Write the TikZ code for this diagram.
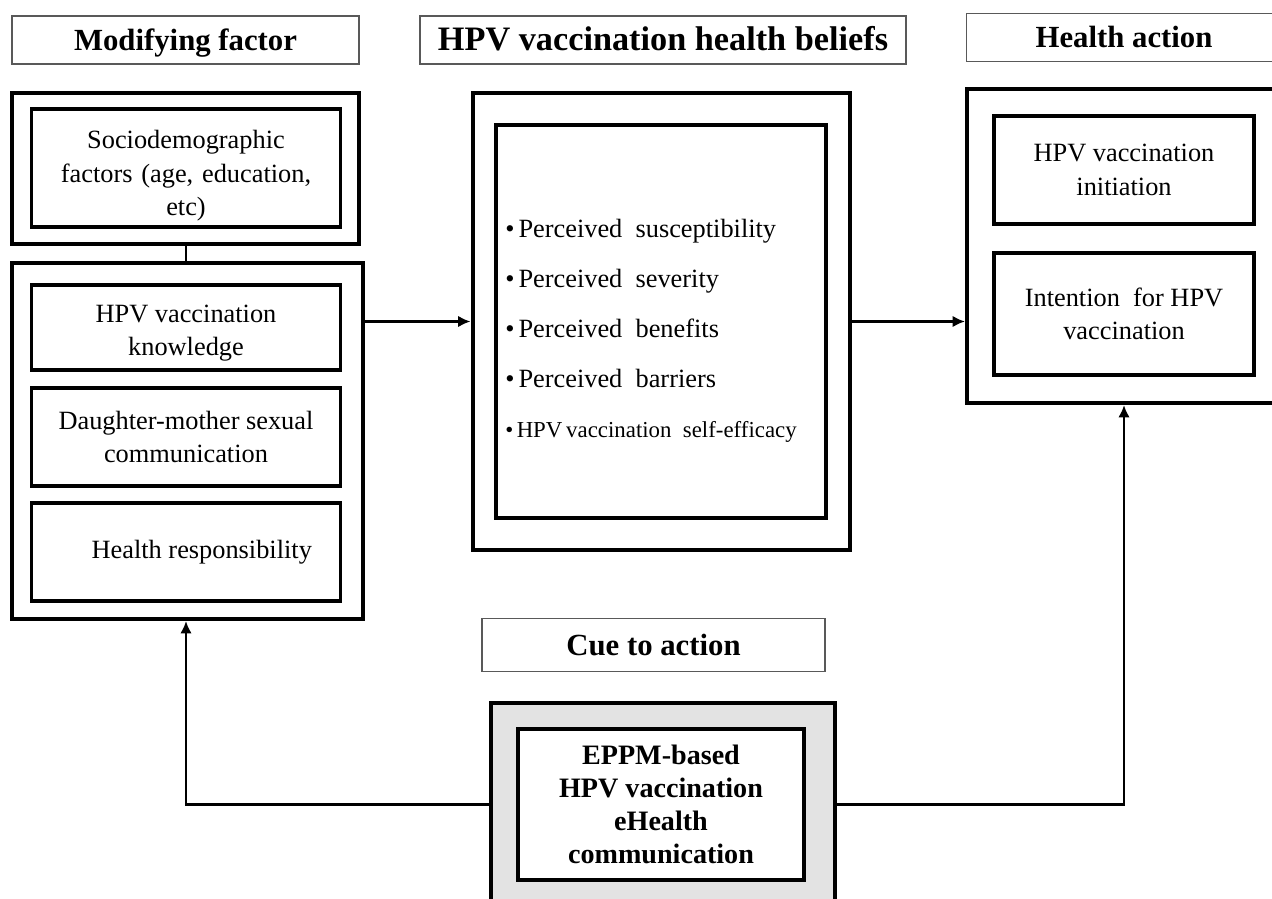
\documentclass[tikz,border=0pt]{standalone}
\usepackage{fontspec}
\setmainfont{Liberation Serif}
\usetikzlibrary{positioning,arrows.meta}
\newcommand{\blt}{\textbullet\hspace{0.15em}}
\begin{document}
\begin{tikzpicture}[x=0.02cm,y=-0.02cm]
\tikzset{head/.style={draw=black!65,line width=0.7pt,
                      minimum height=0.96cm,
                      text height=14pt,text depth=2.5pt,
                      font=\fontsize{17.5}{20}\selectfont\bfseries},
         outer/.style={draw,line width=2.3pt,inner sep=0pt},
         inner/.style={draw,line width=2pt,align=center,
                       font=\fontsize{15}{19}\selectfont},
         link/.style={line width=1.5pt},
         tip/.style={-{Latex[length=7pt,width=6.5pt]}}
}
\useasboundingbox (0,0) rectangle (1272,899);
% titles
\node[head,minimum width=6.94cm] (hmod) at (185.5,40) {Modifying factor};
\node[head,minimum width=9.72cm,font=\fontsize{19.5}{22}\selectfont\bfseries] (hbel) at (663,40)
     {HPV vaccination health beliefs};
\node[head,minimum width=6.3cm]  (hact) at (1124,37.5){Health action};
\node[head,minimum width=6.86cm,minimum height=1.06cm] (hcue) at (653.5,645) {Cue to action};
% modifying factors
\node[outer,minimum width=6.94cm,minimum height=3.02cm] (M1) at (185.5,168.5) {};
\node[inner,minimum width=6.18cm,minimum height=2.32cm,text width=5.6cm] (socio) at (186,168)
     {\rule{0pt}{1.3em}Sociodemographic\\ factors (age, education,\\ etc)};
\node[outer,minimum width=7.02cm,minimum height=7.12cm] (M2) at (187.5,441) {};
\node[inner,minimum width=6.18cm,minimum height=1.7cm]  (know) at (186,327.5)
     {\rule{0pt}{1.1em}HPV vaccination\\ knowledge};
\node[inner,minimum width=6.18cm,minimum height=1.96cm] (daug) at (186,437)
     {Daughter-mother sexual\\ communication};
\node[inner,minimum width=6.18cm,minimum height=1.96cm] (resp) at (186,552)
     {\hspace*{1.2em}Health responsibility};
\draw[link] (M1.south-|socio) -- (M2.north-|socio);
% health beliefs
\node[outer,minimum width=7.56cm,minimum height=9.14cm] (B) at (661.5,321.5) {};
\node[inner,minimum width=6.6cm,minimum height=7.86cm] (beliefs) at (661,321.5) {};
\node[anchor=west,align=left,inner sep=0pt,
      font=\fontsize{15}{19}\selectfont] (list) at (505,331)
     {\blt Perceived\ \ susceptibility\\[0.33cm]
      \blt Perceived\ \ severity\\[0.33cm]
      \blt Perceived\ \ benefits\\[0.33cm]
      \blt Perceived\ \ barriers\\[0.33cm]
      {\fontsize{13}{19}\selectfont\blt HPV\,vaccination\ \ self-efficacy}};
% health action
\node[outer,minimum width=6.28cm,minimum height=6.28cm] (A) at (1124,246) {};
\node[inner,minimum width=5.2cm,minimum height=2.16cm] (init) at (1124,170)
     {HPV vaccination\\ initiation};
\node[inner,minimum width=5.2cm,minimum height=2.44cm] (intent) at (1124,314)
     {Intention\ \ for HPV\\ vaccination};
% cue to action
\node[outer,fill=black!11,minimum width=6.88cm,minimum height=4.2cm] (C) at (663,808) {};
\node[inner,fill=white,minimum width=5.72cm,minimum height=3.02cm,
      font=\fontsize{16}{18.8}\selectfont\bfseries] (eppm) at (661,804.5)
     {EPPM-based\\ HPV vaccination\\ eHealth\\ communication};
% links
\draw[link,tip] (M2.east|-B) -- (B.west);
\draw[link,tip] (B.east) -- (A.west|-B);
\draw[link,tip] (C.west|-eppm) -| (M2.south-|socio);
\draw[link,tip] (C.east|-eppm) -| (A.south);
\end{tikzpicture}
\end{document}
